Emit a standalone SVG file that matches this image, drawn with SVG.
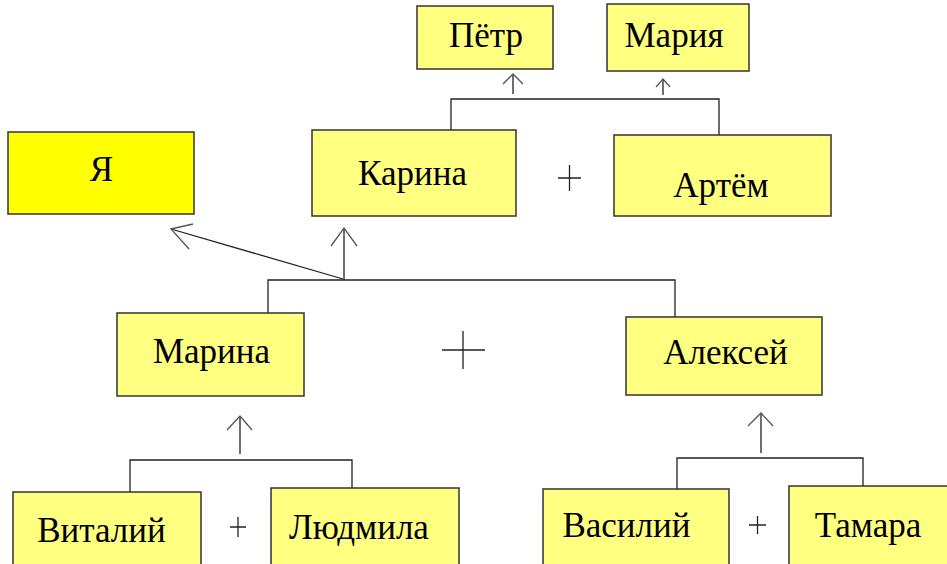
<svg xmlns="http://www.w3.org/2000/svg" width="947" height="564" viewBox="0 0 947 564">
<style>
.box{fill:#FFFF80;stroke:#333;stroke-width:1.5}
.me{fill:#FFFF00;stroke:#333;stroke-width:1.5}
.lbl{font-family:'Liberation Serif','Times New Roman',serif;font-size:35px;fill:#000;text-anchor:middle}
.ln{fill:none;stroke:#222;stroke-width:1.3}
.hd{fill:none;stroke:#555;stroke-width:1.3}
.plus{fill:none;stroke:#222;stroke-width:1.3}
</style>
<rect width="947" height="564" fill="#fff"/>
<g id="connectors">
<polyline class="ln" points="451,130 451,99 719,99 719,135"/>
<line class="ln" x1="513" y1="94" x2="513" y2="74"/>
<polyline class="hd" points="503,84 513,74 523,84"/>
<line class="ln" x1="663" y1="95" x2="663" y2="79"/>
<polyline class="hd" points="656,87 663,79 670,87"/>
<polyline class="ln" points="268,313 268,280 675,280 675,317"/>
<line class="ln" x1="344" y1="280" x2="344" y2="228"/>
<polyline class="hd" points="331,246 344,228 357,246"/>
<line class="ln" x1="343" y1="279" x2="171" y2="229"/>
<polyline class="hd" points="193,224 171,229 189,249"/>
<polyline class="ln" points="130,492 130,460 352,460 352,488"/>
<line class="ln" x1="240" y1="454" x2="240" y2="416"/>
<polyline class="hd" points="227,430 240,416 252,430"/>
<polyline class="ln" points="677,491 677,458 863,458 863,486"/>
<line class="ln" x1="761" y1="453" x2="761" y2="413"/>
<polyline class="hd" points="748,426 761,413 773,426"/>
</g>
<g id="plus-signs">
<path class="plus" d="M558,178 H581 M569.5,165 V191"/>
<path class="plus" d="M442,350 H485 M463,331 V369"/>
<path class="plus" d="M230,527 H246 M238,517 V537"/>
<path class="plus" d="M749,525 H766 M757.5,516 V534"/>
</g>
<g id="node-petr"><rect class="box" x="417" y="6" width="136" height="63"/><text class="lbl" x="486" y="47">Пётр</text></g>
<g id="node-maria"><rect class="box" x="607" y="4" width="142" height="67"/><text class="lbl" x="674" y="47">Мария</text></g>
<g id="node-ya"><rect class="me" x="8" y="132" width="186" height="82"/><text class="lbl" x="101.5" y="181">Я</text></g>
<g id="node-karina"><rect class="box" x="312" y="130" width="204" height="86"/><text class="lbl" x="412.5" y="185">Карина</text></g>
<g id="node-artem"><rect class="box" x="614" y="135" width="217" height="81"/><text class="lbl" x="721" y="197">Артём</text></g>
<g id="node-marina"><rect class="box" x="117" y="313" width="187" height="83"/><text class="lbl" x="211.5" y="363">Марина</text></g>
<g id="node-aleksey"><rect class="box" x="626" y="317" width="196" height="78"/><text class="lbl" x="725.5" y="364">Алексей</text></g>
<g id="node-vitaliy"><rect class="box" x="13" y="492" width="188" height="90"/><text class="lbl" x="101.5" y="542">Виталий</text></g>
<g id="node-lyudmila"><rect class="box" x="271" y="488" width="188" height="94"/><text class="lbl" x="359" y="539">Людмила</text></g>
<g id="node-vasiliy"><rect class="box" x="543" y="489" width="186" height="93"/><text class="lbl" x="626.5" y="537">Василий</text></g>
<g id="node-tamara"><rect class="box" x="789" y="486" width="170" height="96"/><text class="lbl" x="868" y="537">Тамара</text></g>
</svg>
